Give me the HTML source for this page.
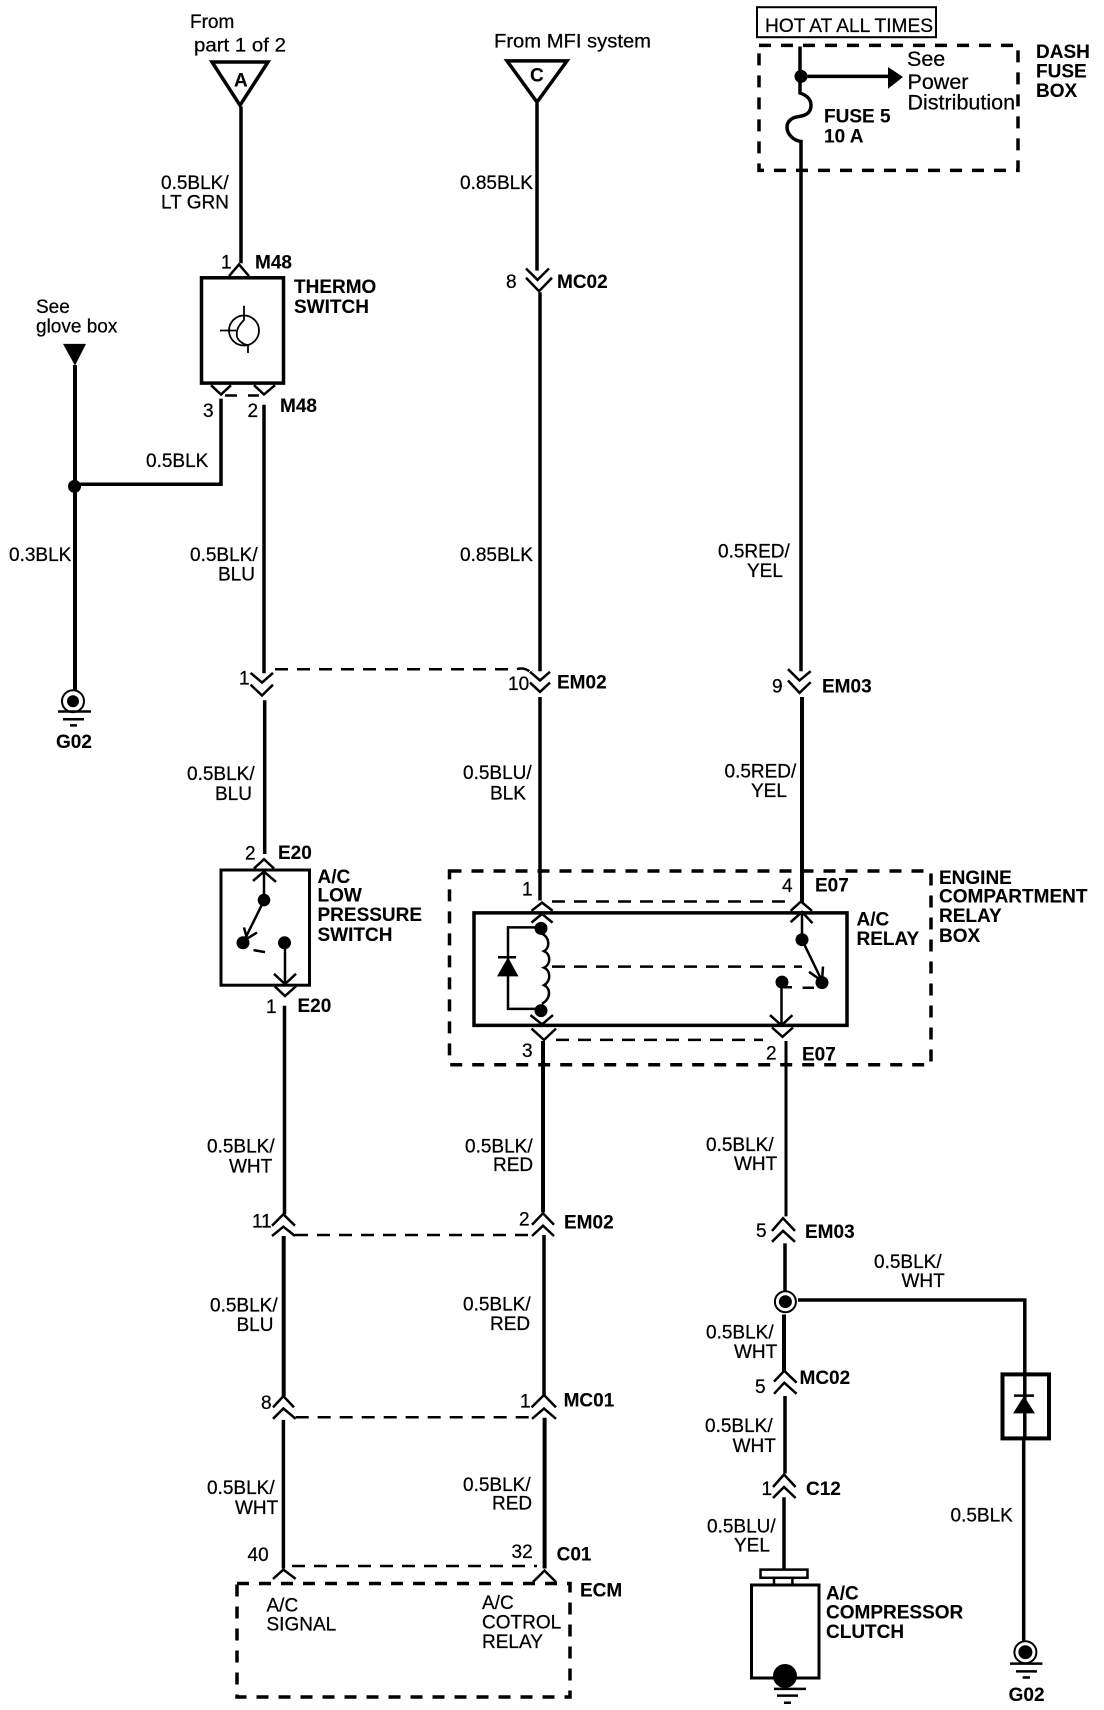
<!DOCTYPE html>
<html><head><meta charset="utf-8"><style>
html,body{margin:0;padding:0;background:#fff}
svg{display:block}
text{font-family:"Liberation Sans",sans-serif;font-size:19px;fill:#000;stroke:#000;stroke-width:.25}
.b{font-weight:bold;stroke-width:.1}
.w{fill:none;stroke:#000;stroke-width:3.5}
.c{fill:none;stroke:#000;stroke-width:2.5}
.d{fill:none;stroke:#000;stroke-width:2.5;stroke-dasharray:13 9}
.D{fill:none;stroke:#000;stroke-width:3.5;stroke-dasharray:12 10}
.t{fill:none;stroke:#000;stroke-width:1.8}
</style></head><body>
<svg width="1104" height="1710" viewBox="0 0 1104 1710" xmlns="http://www.w3.org/2000/svg">
<rect width="1104" height="1710" fill="#fff"/>
<!-- top left -->
<path class="w" d="M212 62H268L240 105.300Z"/>
<path class="w" d="M241 106.400V263.300"/>
<text class="b" x="234" y="86.700">A</text>
<text x="190" y="27.900">From</text>
<text x="194" y="51.600" textLength="92" lengthAdjust="spacingAndGlyphs">part 1 of 2</text>
<text x="161" y="189">0.5BLK/</text>
<text x="161" y="208.600">LT GRN</text>
<text x="221" y="268.500">1</text>
<text class="b" x="255" y="268.500">M48</text>
<path class="c" d="M229 276.200L239 264.400L249 276.200"/>
<rect class="w" x="201.500" y="277.800" width="82" height="105.300"/>
<circle class="t" cx="244" cy="330.500" r="15"/>
<path class="t" d="M244 305.700V320C238 326 236 330.500 237 336.700C238 340.800 244 345 248 345V353M220 330.500H236"/>
<text class="b" x="294" y="292.800">THERMO</text>
<text class="b" x="294" y="312.900">SWITCH</text>
<text x="36" y="312.900">See</text>
<text x="36" y="332.500">glove box</text>
<path d="M63 343.900H86L75 365.600Z" fill="#000"/>
<path class="w" style="stroke-width:4" d="M75 365V689.800"/>
<circle cx="74.500" cy="486.400" r="6.500" fill="#000"/>
<path class="w" d="M74 484.300H221V398.600"/>
<path class="c" d="M211 385.200L221 394.500L231 385.200M254 385.200L264 394.500L275 385.200M225 395.500H237M248 395.500H259"/>
<text x="203" y="417.200">3</text>
<text x="247.500" y="417.200">2</text>
<text class="b" x="280" y="412">M48</text>
<text x="146" y="466.800">0.5BLK</text>
<path class="w" d="M264 404.800V673.300"/>
<text x="9" y="560.800">0.3BLK</text>
<text x="190" y="560.800">0.5BLK/</text>
<text x="218" y="580.300">BLU</text>
<circle cx="73" cy="701.200" r="11" fill="none" stroke="#000" stroke-width="2"/>
<circle cx="73" cy="701.200" r="6" fill="#000"/>
<path class="c" d="M58 711.500H91M63 719.200H84M70 725.400H77"/>
<text class="b" x="56" y="748.100">G02</text>
<!-- C column -->
<path class="w" d="M507 60.900H567L537 102.200Z"/>
<text class="b" x="530" y="81.600">C</text>
<text x="494" y="47.500" textLength="157" lengthAdjust="spacingAndGlyphs">From MFI system</text>
<path class="w" d="M537 103.300V270.600"/>
<text x="460" y="189">0.85BLK</text>
<path class="c" d="M526 268.500L537.500 279.900L549 268.500M526 277.800L539 291.200L552 277.800"/>
<text x="506" y="288">8</text>
<text class="b" x="557" y="288">MC02</text>
<path class="w" d="M540 292.300V671.200"/>
<text x="460" y="560.800">0.85BLK</text>
<!-- hot / fuse box -->
<rect x="757" y="7.200" width="179" height="30" fill="none" stroke="#000" stroke-width="2"/>
<text x="765" y="32" textLength="168" lengthAdjust="spacingAndGlyphs">HOT AT ALL TIMES</text>
<rect class="D" x="759" y="45.400" width="259" height="125"/>
<path class="w" d="M800 46.500V93C806 95 811 99 811 105.300C811 113.600 805 115.700 798 116.700C791 117.700 787 121.900 787 127C787 134 793 140.400 801 141.500V671.200"/>
<circle cx="801" cy="76.400" r="6.500" fill="#000"/>
<path class="w" d="M801 76.400H890"/>
<path d="M888 67L903 77L888 88.800Z" fill="#000"/>
<text x="907" y="66" style="font-size:21.5px">See</text>
<text x="907.500" y="88.800" style="font-size:21.5px">Power</text>
<text x="907.500" y="109.500" style="font-size:21.5px">Distribution</text>
<text class="b" x="824" y="122.500">FUSE 5</text>
<text class="b" x="824" y="142.500">10 A</text>
<text class="b" x="1036" y="57.800">DASH</text>
<text class="b" x="1036" y="77.500">FUSE</text>
<text class="b" x="1036" y="97">BOX</text>
<text x="718" y="557.700">0.5RED/</text>
<text x="747" y="577.200">YEL</text>
<!-- row 620-690 -->
<path class="c" d="M250.600 672.900L262 682.600L273 672.900M250.600 684.700L262 695.500L273 684.700"/>
<text x="239" y="684.700">1</text>
<path class="w" d="M264.700 700.200V854"/>
<path class="d" d="M275 669.200H517Q524 667.100 530 671.800"/>
<path class="c" d="M530 671.800L540 680.500L550 671.800M530 682.600L540 691.900L550 682.600"/>
<text x="508" y="689.800">10</text>
<text class="b" x="557" y="688.300">EM02</text>
<path class="w" d="M540 697V900.500"/>
<path class="c" d="M788 669.200L799.500 680.500L810.700 671.200M788 680.500L799.500 692.900L810.700 682.100"/>
<text x="772" y="692.500">9</text>
<text class="b" x="822" y="692.500">EM03</text>
<path class="w" style="stroke-width:4" d="M802 697V902.600"/>
<text x="187" y="780.200">0.5BLK/</text>
<text x="215" y="799.800">BLU</text>
<text x="463" y="779.200">0.5BLU/</text>
<text x="490" y="799.300">BLK</text>
<text x="724.500" y="777.600">0.5RED/</text>
<text x="751" y="797">YEL</text>
<!-- low pressure switch -->
<text x="245" y="859.700">2</text>
<text class="b" x="278" y="859.200">E20</text>
<path class="c" d="M254 868.500L264 859.200L274 868.500"/>
<rect class="w" x="221" y="870" width="88.500" height="115.200" style="stroke-width:3"/>
<path class="c" d="M253 880.900L264 871.600L276 881.900M264 871.600V900.500L244 940.800M244 927.400L247 938.700L257 932.500M285 942.800V983.100M274 973.800L285 984.100L296 973.800M253.500 950.100L265 952.100"/>
<circle cx="264" cy="900.100" r="6.300" fill="#000"/>
<circle cx="243" cy="942.800" r="6.500" fill="#000"/>
<circle cx="284.500" cy="942.800" r="6.500" fill="#000"/>
<path class="c" d="M274.600 986.200L285 996L296 986.200"/>
<text x="266" y="1013">1</text>
<text class="b" x="297.500" y="1012">E20</text>
<path class="w" d="M284.500 1005.800V1214.400"/>
<text class="b" x="317.500" y="883">A/C</text>
<text class="b" x="317.500" y="901.500">LOW</text>
<text class="b" x="317.500" y="921.200">PRESSURE</text>
<text class="b" x="317.500" y="940.800">SWITCH</text>
<!-- relay box -->
<path class="D" d="M449.500 871H931V1064.700H449.500Z"/>
<text class="b" x="939" y="884">ENGINE</text>
<text class="b" x="939" y="902.600">COMPARTMENT</text>
<text class="b" x="939" y="922.200">RELAY</text>
<text class="b" x="939" y="941.800">BOX</text>
<text x="522" y="895.300">1</text>
<text x="522" y="1057.200">3</text>
<text x="782" y="892.200">4</text>
<text class="b" x="815" y="891.700">E07</text>
<text x="766" y="1059.500">2</text>
<text class="b" x="802" y="1060.600">E07</text>
<path class="d" d="M552 901.500H788"/>
<path class="w" d="M474 912.900H847V1025.400H474Z"/>
<path class="c" d="M531.500 910.800L542 902.600L552.600 910.800M531.500 922.600L542 913.900L552.600 922.600"/>
<circle cx="541" cy="928.400" r="6.500" fill="#000"/>
<path class="c" d="M541 927.400H508V1008.900H541"/>
<path d="M497 976.400H518.500L508 957.300Z" fill="#000"/>
<path class="c" d="M498 957.300H516"/>
<path class="c" d="M542 933.600C550 937.700 550 948 544 951.100C551 954.200 551 964.500 544 967.600C551 970.700 551 981 544 985.200C551 988.300 551 998.600 542 1003.800"/>
<circle cx="541" cy="1010.600" r="6.500" fill="#000"/>
<path class="c" d="M530.500 1015.100L542 1024.400L553 1015.100M531.500 1028.600L544 1039.900L556 1028.600"/>
<path class="w" style="stroke-width:4" d="M543 1041V1212.300"/>
<path class="d" d="M552 966.600H802"/>
<path class="c" d="M790.600 910.800L801 901.500L812 910.800M790.600 922.200L802 911.900L812.500 923.200M802 911.900V939.700L822 981M809 971.800L822 981L823 966.600M781.500 982.100V1024.400M770 1015.100L781.500 1025.400L792.400 1015.100M772 1027.500L782.500 1036.800L793 1027.500"/>
<circle cx="802" cy="939.700" r="6.500" fill="#000"/>
<circle cx="822" cy="982.600" r="6.500" fill="#000"/>
<circle cx="782" cy="982.100" r="6.500" fill="#000"/>
<path class="c" d="M784 987.300H792M802.600 987.800H814"/>
<path class="d" d="M556 1039.900H763"/>
<text class="b" x="856.500" y="925.300">A/C</text>
<text class="b" x="856.500" y="944.900">RELAY</text>
<path class="w" style="stroke-width:3" d="M786 1041V1216.400"/>
<!-- row 1150-1240 -->
<text x="207" y="1152.400">0.5BLK/</text>
<text x="229" y="1172.700">WHT</text>
<text x="465" y="1152.400">0.5BLK/</text>
<text x="493" y="1171">RED</text>
<text x="706" y="1150.900">0.5BLK/</text>
<text x="734" y="1170">WHT</text>
<text x="252" y="1227.300">11</text>
<path class="c" d="M272 1225.700L283.400 1214.300L295 1225.700M272 1236L283.400 1226.700L295 1236"/>
<path class="d" d="M295 1235H530"/>
<text x="519" y="1225.700">2</text>
<path class="c" d="M532 1224.700L543 1213.300L554 1224.700M532 1236L543 1225.700L554 1236"/>
<text class="b" x="564" y="1228.300">EM02</text>
<path class="w" style="stroke-width:4" d="M283.700 1236V1396"/>
<path class="w" d="M544 1235V1396"/>
<text x="210" y="1311.400">0.5BLK/</text>
<text x="236.500" y="1331">BLU</text>
<text x="463" y="1310.400">0.5BLK/</text>
<text x="490" y="1330">RED</text>
<text x="261" y="1409">8</text>
<path class="c" d="M273 1407.400L283.400 1396.100L294 1407.400M273 1418.800L283.400 1408.500L295.700 1418.800"/>
<path class="d" d="M295.700 1417.300H531.500"/>
<text x="520" y="1407.400">1</text>
<path class="c" d="M531.500 1407.400L544 1395L556 1407.400M532 1418.800L544 1408.500L556 1418.800"/>
<text class="b" x="563.600" y="1406.400">MC01</text>
<path class="w" d="M283.400 1419.900V1568.500"/>
<path class="w" style="stroke-width:4" d="M544.600 1417.800V1568.500"/>
<text x="207" y="1494.200">0.5BLK/</text>
<text x="235" y="1513.800">WHT</text>
<text x="463" y="1491.100">0.5BLK/</text>
<text x="492" y="1509.700">RED</text>
<text x="247.500" y="1560.900">40</text>
<text x="511.500" y="1558.200">32</text>
<text class="b" x="556.600" y="1560.300">C01</text>
<path class="c" d="M273 1578.900L283.400 1569.600L295.700 1578.900M533 1582L544.500 1570.600L556 1582"/>
<path class="d" d="M292 1566H537"/>
<rect class="D" x="237" y="1583.500" width="333" height="113.500"/>
<text x="266.500" y="1611.400">A/C</text>
<text x="266.500" y="1630.500">SIGNAL</text>
<text x="482" y="1608.800">A/C</text>
<text x="482" y="1628.400">COTROL</text>
<text x="482" y="1648">RELAY</text>
<text class="b" x="580" y="1596.400">ECM</text>
<!-- right bottom -->
<text x="756" y="1237">5</text>
<text class="b" x="805" y="1238">EM03</text>
<path class="c" d="M772 1230.900L783 1218.200L795 1230.900M772 1241.800L783 1230.900L795 1241.800"/>
<path class="w" d="M785 1243.300V1290.800"/>
<circle cx="785.400" cy="1301.700" r="10.500" fill="none" stroke="#000" stroke-width="2"/>
<circle cx="785.400" cy="1301.700" r="6.500" fill="#000"/>
<path class="w" d="M798 1300H1024.800V1373.400"/>
<text x="874" y="1268">0.5BLK/</text>
<text x="901.500" y="1287.200">WHT</text>
<path class="w" style="stroke-width:4" d="M784 1314.500V1371.300"/>
<text x="706" y="1338.300">0.5BLK/</text>
<text x="734" y="1357.900">WHT</text>
<text x="755" y="1393">5</text>
<text class="b" x="799.500" y="1384.200">MC02</text>
<path class="c" d="M774 1381.600L784.300 1370.800L796.600 1382.700M774 1393.800L784.300 1382.700L796.600 1393.800"/>
<path class="w" d="M785 1396V1473.500"/>
<text x="705" y="1432.200">0.5BLK/</text>
<text x="732.600" y="1451.900">WHT</text>
<text x="761.500" y="1495.200">1</text>
<text class="b" x="806" y="1495.200">C12</text>
<path class="c" d="M773 1487L784 1474.500L795.600 1487M773 1498L784 1487L795.600 1498"/>
<path class="w" d="M784 1497.300V1569.600"/>
<text x="707" y="1532.400">0.5BLU/</text>
<text x="734" y="1551.500">YEL</text>
<rect x="760.500" y="1569.600" width="47" height="8.200" fill="none" stroke="#000" stroke-width="2.500"/>
<path class="c" d="M774 1577.800V1584M792.400 1577.800V1584"/>
<rect x="751.500" y="1585" width="67.500" height="93" fill="none" stroke="#000" stroke-width="3"/>
<circle cx="785" cy="1676" r="12" fill="#000"/>
<path class="c" d="M774 1688.900H806M777 1695.600H798M784 1702.800H791"/>
<text class="b" x="826" y="1599.500">A/C</text>
<text class="b" x="826" y="1618.700">COMPRESSOR</text>
<text class="b" x="826" y="1637.800">CLUTCH</text>
<rect x="1002.500" y="1374.400" width="46.500" height="64" fill="none" stroke="#000" stroke-width="4"/>
<path class="w" d="M1024.800 1373.400V1439.500"/>
<path d="M1013 1413.400H1035L1024 1396Z" fill="#000"/>
<path class="c" d="M1014 1395.600H1034"/>
<path class="w" d="M1023.700 1439.500V1641.800"/>
<text x="950.500" y="1521.600">0.5BLK</text>
<circle cx="1025.400" cy="1652.200" r="11" fill="none" stroke="#000" stroke-width="2"/>
<circle cx="1025.400" cy="1652.200" r="7" fill="#000"/>
<path class="c" d="M1010 1663.600H1042.400M1016 1671.400H1037M1022.600 1677.500H1030"/>
<text class="b" x="1008.600" y="1700.800">G02</text>
</svg>
</body></html>
